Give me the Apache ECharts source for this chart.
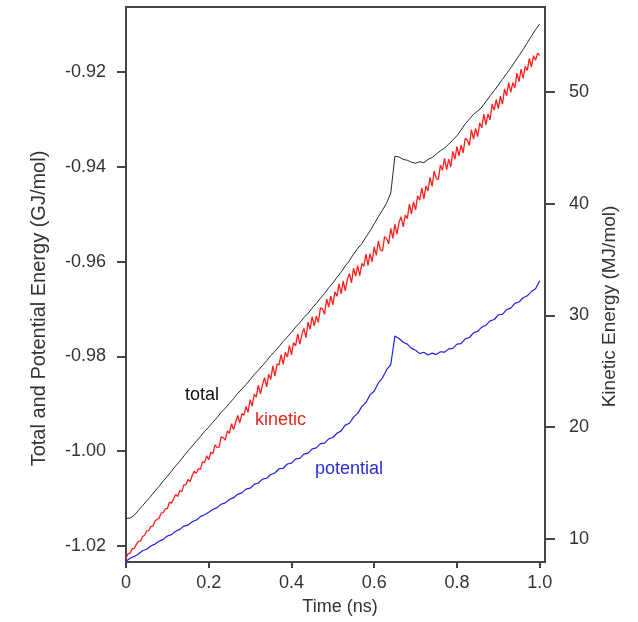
<!DOCTYPE html>
<html>
<head>
<meta charset="utf-8">
<script src="https://cdn.jsdelivr.net/npm/echarts@6/dist/echarts.min.js"></script>
<style>
html,body{margin:0;padding:0;background:#fff;}
#chart{width:638px;height:622px;}
</style>
</head>
<body>
<div id="chart"></div>
<script>
// Time (ns) for total and potential energy
const time = [0,0.01,0.02,0.03,0.04,0.05,0.06,0.07,0.08,0.09,
0.10,0.11,0.12,0.13,0.14,0.15,0.16,0.17,0.18,0.19,
0.20,0.21,0.22,0.23,0.24,0.25,0.26,0.27,0.28,0.29,
0.30,0.31,0.32,0.33,0.34,0.35,0.36,0.37,0.38,0.39,
0.40,0.41,0.42,0.43,0.44,0.45,0.46,0.47,0.48,0.49,
0.50,0.51,0.52,0.53,0.54,0.55,0.56,0.57,0.58,0.59,
0.60,0.61,0.62,0.63,0.64,0.65,0.66,0.67,0.68,0.69,
0.70,0.71,0.72,0.73,0.74,0.75,0.76,0.77,0.78,0.79,
0.80,0.81,0.82,0.83,0.84,0.85,0.86,0.87,0.88,0.89,
0.90,0.91,0.92,0.93,0.94,0.95,0.96,0.97,0.98,0.99,1.00];

// Total energy (GJ/mol), left axis
const totalEnergy = [-1.0142,-1.0141,-1.0135,-1.0125,-1.0115,-1.0105,-1.0095,-1.0084,-1.0074,-1.0063,
-1.0053,-1.0042,-1.0031,-1.0021,-1.0010,-0.9999,-0.9989,-0.9979,-0.9969,-0.9958,
-0.9949,-0.9939,-0.9929,-0.9918,-0.9909,-0.9899,-0.9889,-0.9878,-0.9869,-0.9859,
-0.9849,-0.9838,-0.9829,-0.9819,-0.9809,-0.9798,-0.9789,-0.9779,-0.9768,-0.9759,
-0.9749,-0.9738,-0.9729,-0.9718,-0.9709,-0.9698,-0.9688,-0.9677,-0.9667,-0.9655,
-0.9645,-0.9633,-0.9622,-0.9609,-0.9598,-0.9584,-0.9572,-0.9562,-0.9548,-0.9535,
-0.9520,-0.9505,-0.9491,-0.9476,-0.9455,-0.9377,-0.9379,-0.9384,-0.9386,-0.9390,
-0.9392,-0.9389,-0.9391,-0.9384,-0.9380,-0.9373,-0.9366,-0.9360,-0.9352,-0.9343,
-0.9334,-0.9322,-0.9309,-0.9299,-0.9289,-0.9282,-0.9274,-0.9262,-0.9250,-0.9239,
-0.9227,-0.9215,-0.9203,-0.9191,-0.9178,-0.9165,-0.9152,-0.9138,-0.9124,-0.9110,-0.9098];

// Potential energy (GJ/mol), left axis
const potentialEnergy = [-1.0232,-1.0226,-1.0222,-1.0217,-1.0210,-1.0207,-1.0200,-1.0196,-1.0190,-1.0186,
-1.0179,-1.0176,-1.0169,-1.0165,-1.0158,-1.0156,-1.0149,-1.0145,-1.0138,-1.0134,
-1.0129,-1.0123,-1.0119,-1.0112,-1.0109,-1.0102,-1.0098,-1.0091,-1.0088,-1.0080,
-1.0078,-1.0070,-1.0067,-1.0059,-1.0057,-1.0049,-1.0046,-1.0037,-1.0036,-1.0027,
-1.0025,-1.0016,-1.0015,-1.0006,-1.0004,-0.9995,-0.9993,-0.9984,-0.9983,-0.9974,
-0.9971,-0.9962,-0.9957,-0.9945,-0.9941,-0.9928,-0.9920,-0.9906,-0.9897,-0.9881,
-0.9873,-0.9856,-0.9845,-0.9828,-0.9817,-0.9757,-0.9762,-0.9770,-0.9774,-0.9783,
-0.9787,-0.9794,-0.9791,-0.9797,-0.9793,-0.9796,-0.9790,-0.9791,-0.9784,-0.9783,
-0.9774,-0.9773,-0.9763,-0.9760,-0.9750,-0.9747,-0.9738,-0.9734,-0.9725,-0.9722,
-0.9712,-0.9711,-0.9701,-0.9698,-0.9688,-0.9685,-0.9676,-0.9672,-0.9663,-0.9657,-0.9640];

// Time (ns) for kinetic energy (finer sampling)
const kineticTime = [0,0.005,0.01,0.015,0.02,0.025,0.03,0.035,0.04,0.045,
0.05,0.055,0.06,0.065,0.07,0.075,0.08,0.085,0.09,0.095,
0.1,0.105,0.11,0.115,0.12,0.125,0.13,0.135,0.14,0.145,
0.15,0.155,0.16,0.165,0.17,0.175,0.18,0.185,0.19,0.195,
0.2,0.205,0.21,0.215,0.22,0.225,0.23,0.235,0.24,0.245,
0.25,0.255,0.26,0.265,0.27,0.275,0.28,0.285,0.29,0.295,
0.3,0.305,0.31,0.315,0.32,0.325,0.33,0.335,0.34,0.345,
0.35,0.355,0.36,0.365,0.37,0.375,0.38,0.385,0.39,0.395,
0.4,0.405,0.41,0.415,0.42,0.425,0.43,0.435,0.44,0.445,
0.45,0.455,0.46,0.465,0.47,0.475,0.48,0.485,0.49,0.495,
0.5,0.505,0.51,0.515,0.52,0.525,0.53,0.535,0.54,0.545,
0.55,0.555,0.56,0.565,0.57,0.575,0.58,0.585,0.59,0.595,
0.6,0.605,0.61,0.615,0.62,0.625,0.63,0.635,0.64,0.645,
0.65,0.655,0.66,0.665,0.67,0.675,0.68,0.685,0.69,0.695,
0.7,0.705,0.71,0.715,0.72,0.725,0.73,0.735,0.74,0.745,
0.75,0.755,0.76,0.765,0.77,0.775,0.78,0.785,0.79,0.795,
0.8,0.805,0.81,0.815,0.82,0.825,0.83,0.835,0.84,0.845,
0.85,0.855,0.86,0.865,0.87,0.875,0.88,0.885,0.89,0.895,
0.9,0.905,0.91,0.915,0.92,0.925,0.93,0.935,0.94,0.945,
0.95,0.955,0.96,0.965,0.97,0.975,0.98,0.985,0.99,0.995,1.0];

// Kinetic energy (MJ/mol), right axis
const kineticEnergy = [8.30,8.63,8.70,9.10,9.11,9.48,9.76,9.77,10.19,10.30,
10.69,10.71,11.07,11.12,11.57,11.72,11.82,12.29,12.32,12.68,
12.68,13.26,13.18,13.56,13.96,13.78,14.31,14.22,14.82,14.82,
15.30,15.10,15.65,16.02,15.85,16.28,16.20,16.88,16.81,17.41,
17.06,17.74,17.61,18.39,18.17,18.19,19.12,19.05,18.82,19.65,
19.43,20.30,19.78,20.40,21.03,20.36,21.18,21.06,21.84,21.31,
22.44,21.87,22.94,22.67,23.75,22.97,23.80,24.43,23.60,24.73,
24.26,25.48,24.56,25.63,25.56,26.49,25.61,26.69,26.27,27.29,
26.47,27.55,27.27,28.35,27.43,28.25,28.83,28.01,29.38,28.76,
29.89,29.06,29.94,29.36,30.69,30.57,30.09,31.47,30.75,31.72,
30.95,32.11,31.71,32.82,31.93,33.08,32.19,33.20,33.75,32.91,
34.22,33.51,34.46,33.55,34.65,34.40,35.49,34.49,35.54,34.83,
36.13,35.38,36.67,35.87,35.77,37.06,36.86,36.41,37.80,36.90,
38.15,37.29,38.34,38.83,37.93,38.98,38.67,39.97,39.07,40.16,
39.46,40.72,40.32,41.43,40.44,41.59,41.15,42.36,41.56,42.92,
42.28,42.17,43.47,43.01,44.06,43.06,44.00,43.30,44.70,43.99,
45.14,44.30,45.25,44.56,45.87,45.72,45.23,46.64,45.79,46.75,
46.01,47.25,46.80,48.04,47.09,48.04,47.53,48.93,48.38,49.32,
48.52,49.65,48.92,50.30,49.68,50.85,49.98,50.86,50.38,51.71,
50.94,52.06,51.24,52.31,51.94,53.02,52.24,53.27,52.85,53.50,53.30];

const xTicks = [0, 0.2, 0.4, 0.6, 0.8, 1.0];
const leftTicks = [-1.02, -1.00, -0.98, -0.96, -0.94, -0.92];
const rightTicks = [10, 20, 30, 40, 50];

const FONT = '"Liberation Sans", Arial, sans-serif';
const AX = '#444';
const TXT = '#333';

function pairs(xs, ys) { return xs.map((t, i) => [t, ys[i]]); }

const chart = echarts.init(document.getElementById('chart'), null, {renderer: 'canvas'});
chart.setOption({
  animation: false,
  backgroundColor: '#fff',
  grid: {left: 126, right: 93, top: 7, bottom: 60, show: true, borderColor: AX, borderWidth: 2, backgroundColor: 'transparent'},
  xAxis: {
    type: 'value', min: 0, max: 1.0128,
    name: 'Time (ns)', nameLocation: 'middle', nameGap: 36,
    nameTextStyle: {fontFamily: FONT, fontSize: 18, color: TXT, padding: [0, 0, 0, 9]},
    axisLine: {show: true, onZero: false, lineStyle: {color: AX, width: 2}},
    axisTick: {show: true, inside: false, length: 6, customValues: xTicks, lineStyle: {color: AX, width: 2}},
    axisLabel: {customValues: xTicks, margin: 12, fontFamily: FONT, fontSize: 18, color: TXT,
      formatter: v => (Math.abs(v) < 1e-9 ? '0' : v.toFixed(1))},
    splitLine: {show: false}
  },
  yAxis: [{
    type: 'value', position: 'left', min: -1.02338, max: -0.90624,
    name: 'Total and Potential Energy (GJ/mol)', nameLocation: 'middle', nameGap: 77,
    nameTextStyle: {fontFamily: FONT, fontSize: 20, color: TXT, padding: [0, 48, 0, 0]},
    axisLine: {show: true, onZero: false, lineStyle: {color: AX, width: 2}},
    axisTick: {show: true, inside: false, length: 9, customValues: leftTicks, lineStyle: {color: AX, width: 2}},
    axisLabel: {customValues: leftTicks, margin: 20, fontFamily: FONT, fontSize: 18, color: TXT,
      formatter: v => v.toFixed(2)},
    splitLine: {show: false}
  }, {
    type: 'value', position: 'right', min: 7.904, max: 57.63,
    name: 'Kinetic Energy (MJ/mol)', nameLocation: 'middle', nameGap: 55,
    nameTextStyle: {fontFamily: FONT, fontSize: 19, color: TXT, padding: [0, 44, 0, 0]},
    axisLine: {show: true, onZero: false, lineStyle: {color: AX, width: 2}},
    axisTick: {show: true, inside: false, length: 10, customValues: rightTicks, lineStyle: {color: AX, width: 2}},
    axisLabel: {customValues: rightTicks, margin: 24, fontFamily: FONT, fontSize: 18, color: TXT,
      formatter: v => String(Math.round(v))},
    splitLine: {show: false}
  }],
  series: [{
    name: 'total', type: 'line', yAxisIndex: 0, showSymbol: false, silent: true,
    data: pairs(time, totalEnergy), lineStyle: {color: '#2a2a2a', width: 1}, z: 3
  }, {
    name: 'kinetic', type: 'line', yAxisIndex: 1, showSymbol: false, silent: true,
    data: pairs(kineticTime, kineticEnergy), lineStyle: {color: '#ff1e1e', width: 1.3}, z: 4
  }, {
    name: 'potential', type: 'line', yAxisIndex: 0, showSymbol: false, silent: true,
    data: pairs(time, potentialEnergy), lineStyle: {color: '#2020e0', width: 1.2}, z: 5
  }],
  graphic: [
    {type: 'text', left: 185, top: 386, style: {text: 'total', fill: '#111', font: '18px ' + FONT}},
    {type: 'text', left: 255, top: 411, style: {text: 'kinetic', fill: '#e8261e', font: '18px ' + FONT}},
    {type: 'text', left: 315, top: 460, style: {text: 'potential', fill: '#2b2bd6', font: '18px ' + FONT}}
  ]
});
</script>
</body>
</html>
